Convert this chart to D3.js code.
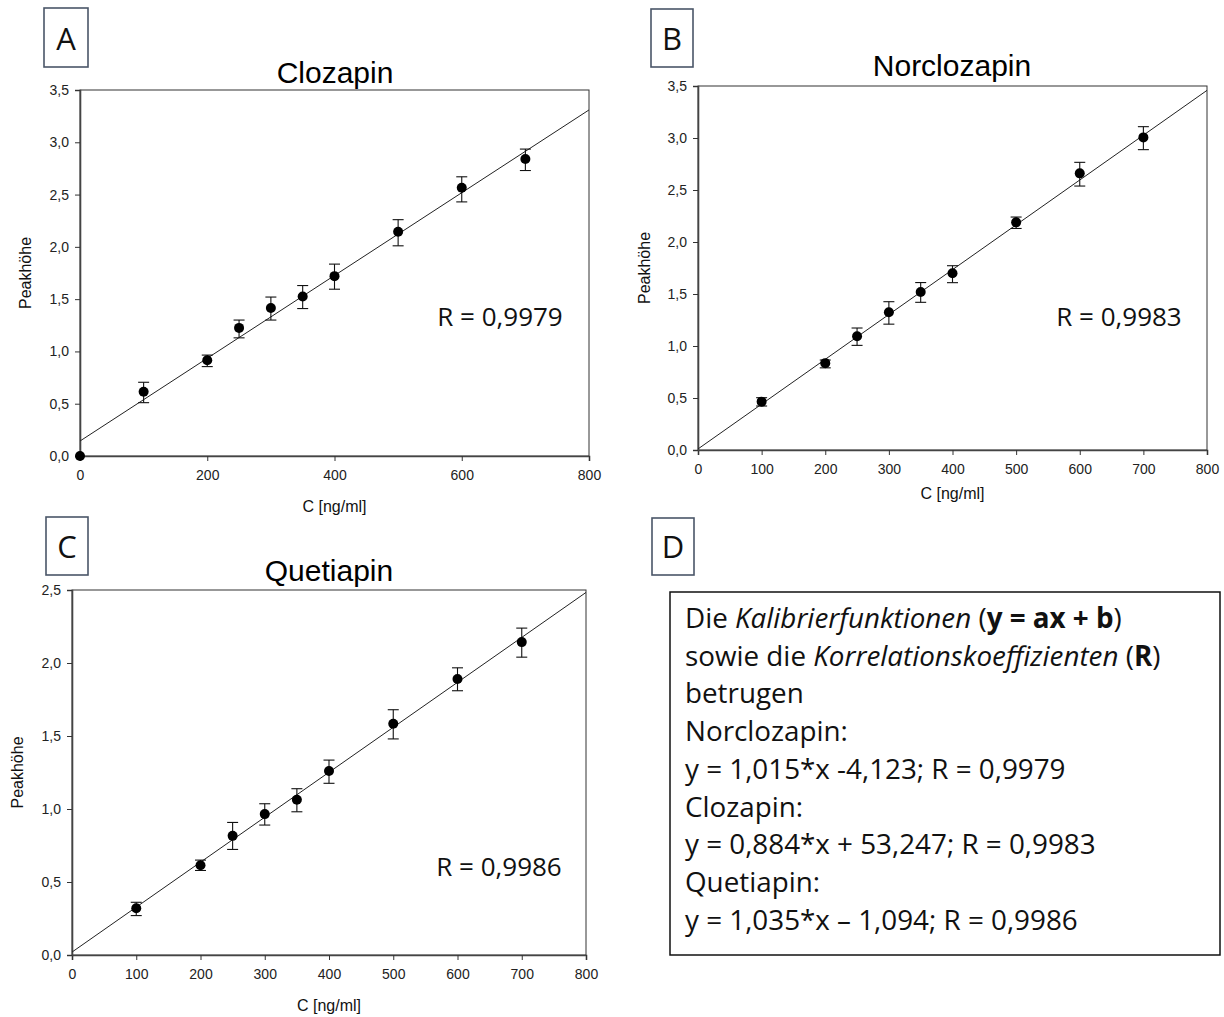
<!DOCTYPE html>
<html>
<head>
<meta charset="utf-8">
<script src="https://cdn.jsdelivr.net/npm/d3@7"></script>
<style>
  body { margin: 0; background: #fff; }
  svg { display: block; }
  .tick text { font-family: "Liberation Sans", Arial, sans-serif; font-size: 14px; fill: #222; }
</style>
</head>
<body>
<svg id="chart" width="1224" height="1017"></svg>
<script>
// ---- data ----
const concA = [0, 100, 200, 250, 300, 350, 400, 500, 600, 700];
const peakA = [0, 0.615, 0.915, 1.225, 1.415, 1.525, 1.72, 2.145, 2.565, 2.84];
const lowA  = [0, 0.51, 0.855, 1.13, 1.30, 1.41, 1.595, 2.01, 2.43, 2.73];
const highA = [0, 0.705, 0.965, 1.30, 1.52, 1.63, 1.835, 2.26, 2.67, 2.935];
const fitA  = [0.143, 0.003958];   // intercept, slope

const concB = [100, 200, 250, 300, 350, 400, 500, 600, 700];
const peakB = [0.465, 0.835, 1.093, 1.324, 1.519, 1.70, 2.189, 2.66, 3.006];
const lowB  = [0.423, 0.79, 1.006, 1.21, 1.42, 1.609, 2.13, 2.538, 2.888];
const highB = [0.503, 0.865, 1.173, 1.426, 1.61, 1.772, 2.24, 2.766, 3.109];
const fitB  = [0.01, 0.00431];

const concC = [100, 200, 250, 300, 350, 400, 500, 600, 700];
const peakC = [0.32, 0.615, 0.816, 0.965, 1.063, 1.26, 1.584, 1.891, 2.143];
const lowC  = [0.27, 0.579, 0.723, 0.89, 0.981, 1.176, 1.48, 1.81, 2.04];
const highC = [0.361, 0.65, 0.908, 1.036, 1.139, 1.335, 1.68, 1.967, 2.239];
const fitC  = [0.02, 0.003079];

const xTicksA = [0, 200, 400, 600, 800];
const xTicksBC = [0, 100, 200, 300, 400, 500, 600, 700, 800];
const yTicks35 = [0, 0.5, 1, 1.5, 2, 2.5, 3, 3.5];
const yTicks25 = [0, 0.5, 1, 1.5, 2, 2.5];

const infoLines = [
  [["Die ", ""], ["Kalibrierfunktionen", "i"], [" (", ""], ["y = ax + b", "b"], [")", ""]],
  [["sowie die ", ""], ["Korrelationskoeffizienten", "i"], [" (", ""], ["R", "b"], [")", ""]],
  [["betrugen", ""]],
  [["Norclozapin:", ""]],
  [["y = 1,015*x -4,123; R = 0,9979", ""]],
  [["Clozapin:", ""]],
  [["y = 0,884*x + 53,247; R = 0,9983", ""]],
  [["Quetiapin:", ""]],
  [["y = 1,035*x \u2013 1,094; R = 0,9986", ""]]
];

const svg = d3.select('#chart');
const fmt = v => v.toFixed(1).replace('.', ',');
const sans = '"Liberation Sans", Arial, sans-serif';
const cal = '"Open Sans", sans-serif';

function letterBox(x, y, w, h, letter) {
    svg.append('rect')
        .attr('x', x).attr('y', y).attr('width', w).attr('height', h)
        .attr('fill', '#fff').attr('stroke', '#4a5668').attr('stroke-width', 1.6);
    svg.append('text')
        .attr('x', x + w / 2).attr('y', y + h - 17)
        .attr('text-anchor', 'middle')
        .attr('font-family', cal).attr('font-size', 31)
        .attr('fill', '#111')
        .text(letter);
}

function drawPanel(p) {
    let x = d3.scaleLinear().domain([0, 800]).range([p.left, p.right]);
    let y = d3.scaleLinear().domain([0, p.yMax]).range([p.bottom, p.top]);
    let g = svg.append('g');

    // frame
    g.append('rect')
        .attr('x', p.left).attr('y', p.top)
        .attr('width', p.right - p.left).attr('height', p.bottom - p.top)
        .attr('fill', 'none').attr('stroke', '#333').attr('stroke-width', 1);

    let xAxis = g.append('g')
        .attr('transform', `translate(0,${p.bottom})`)
        .call(d3.axisBottom(x).tickValues(p.xTicks).tickSize(5).tickPadding(9).tickFormat(d3.format('d')));
    let yAxis = g.append('g')
        .attr('transform', `translate(${p.left},0)`)
        .call(d3.axisLeft(y).tickValues(p.yTicks).tickSize(5).tickPadding(6).tickFormat(fmt));
    [xAxis, yAxis].forEach(a => {
        a.select('.domain').attr('stroke', '#444').attr('stroke-width', 1.6);
        a.selectAll('.tick line').attr('stroke', '#333');
    });

    // regression line
    g.append('line')
        .attr('x1', x(0)).attr('y1', y(p.fit[0]))
        .attr('x2', x(800)).attr('y2', y(p.fit[0] + p.fit[1] * 800))
        .attr('stroke', '#222').attr('stroke-width', 1);

    let pts = p.conc.map((c, i) => ({c: c, v: p.peak[i], lo: p.low[i], hi: p.high[i]}));

    let err = g.selectAll('.err').data(pts.filter(d => d.hi > d.lo)).enter().append('g');
    err.append('line')
        .attr('x1', d => x(d.c)).attr('x2', d => x(d.c))
        .attr('y1', d => y(d.lo)).attr('y2', d => y(d.hi));
    err.append('line')
        .attr('x1', d => x(d.c) - 5.5).attr('x2', d => x(d.c) + 5.5)
        .attr('y1', d => y(d.lo)).attr('y2', d => y(d.lo));
    err.append('line')
        .attr('x1', d => x(d.c) - 5.5).attr('x2', d => x(d.c) + 5.5)
        .attr('y1', d => y(d.hi)).attr('y2', d => y(d.hi));
    err.selectAll('line').attr('stroke', '#111').attr('stroke-width', 1.1);

    g.selectAll('.pt').data(pts).enter().append('circle')
        .attr('cx', d => x(d.c)).attr('cy', d => y(d.v))
        .attr('r', 5).attr('fill', '#000');

    // texts
    g.append('text')
        .attr('x', p.titleX).attr('y', p.titleY)
        .attr('text-anchor', 'middle')
        .attr('font-family', sans).attr('font-size', 30).attr('fill', '#000')
        .text(p.title);
    g.append('text')
        .attr('transform', `translate(${p.yLabelX},${(p.top + p.bottom) / 2}) rotate(-90)`)
        .attr('text-anchor', 'middle')
        .attr('font-family', sans).attr('font-size', 16).attr('fill', '#111')
        .text('Peakhöhe');
    g.append('text')
        .attr('x', (p.left + p.right) / 2).attr('y', p.xLabelY)
        .attr('text-anchor', 'middle')
        .attr('font-family', sans).attr('font-size', 16).attr('fill', '#111')
        .text('C [ng/ml]');
    g.append('text')
        .attr('x', p.rX).attr('y', p.rY)
        .attr('text-anchor', 'middle')
        .attr('font-family', cal).attr('font-size', 26).attr('fill', '#111')
        .text(p.rText);
}

drawPanel({left: 80, right: 589, top: 90, bottom: 456, yMax: 3.5,
    xTicks: xTicksA, yTicks: yTicks35, conc: concA, peak: peakA, low: lowA, high: highA, fit: fitA,
    title: 'Clozapin', titleX: 335, titleY: 83, yLabelX: 31, xLabelY: 512,
    rText: 'R = 0,9979', rX: 500, rY: 326});
drawPanel({left: 698, right: 1207, top: 86, bottom: 450, yMax: 3.5,
    xTicks: xTicksBC, yTicks: yTicks35, conc: concB, peak: peakB, low: lowB, high: highB, fit: fitB,
    title: 'Norclozapin', titleX: 952, titleY: 76, yLabelX: 650, xLabelY: 499,
    rText: 'R = 0,9983', rX: 1119, rY: 326});
drawPanel({left: 72, right: 586, top: 590, bottom: 955, yMax: 2.5,
    xTicks: xTicksBC, yTicks: yTicks25, conc: concC, peak: peakC, low: lowC, high: highC, fit: fitC,
    title: 'Quetiapin', titleX: 329, titleY: 581, yLabelX: 23, xLabelY: 1011,
    rText: 'R = 0,9986', rX: 499, rY: 876});

letterBox(44, 8, 44, 59, 'A');
letterBox(651, 9, 42, 58, 'B');
letterBox(46, 517, 42, 58, 'C');
letterBox(652, 518, 42, 57, 'D');

// text box D
svg.append('rect')
    .attr('x', 670).attr('y', 592).attr('width', 550).attr('height', 363)
    .attr('fill', '#fff').attr('stroke', '#111').attr('stroke-width', 1.5);

let info = svg.append('text')
    .attr('font-family', cal).attr('font-size', 27.8).attr('fill', '#111');
infoLines.forEach((line, i) => {
    line.forEach((seg, j) => {
        let t = info.append('tspan').text(seg[0]);
        if (j === 0) t.attr('x', 685).attr('y', 628 + i * 37.7);
        if (seg[1] === 'i') t.attr('font-style', 'italic');
        if (seg[1] === 'b') t.attr('font-weight', 'bold');
    });
});
</script>
</body>
</html>
